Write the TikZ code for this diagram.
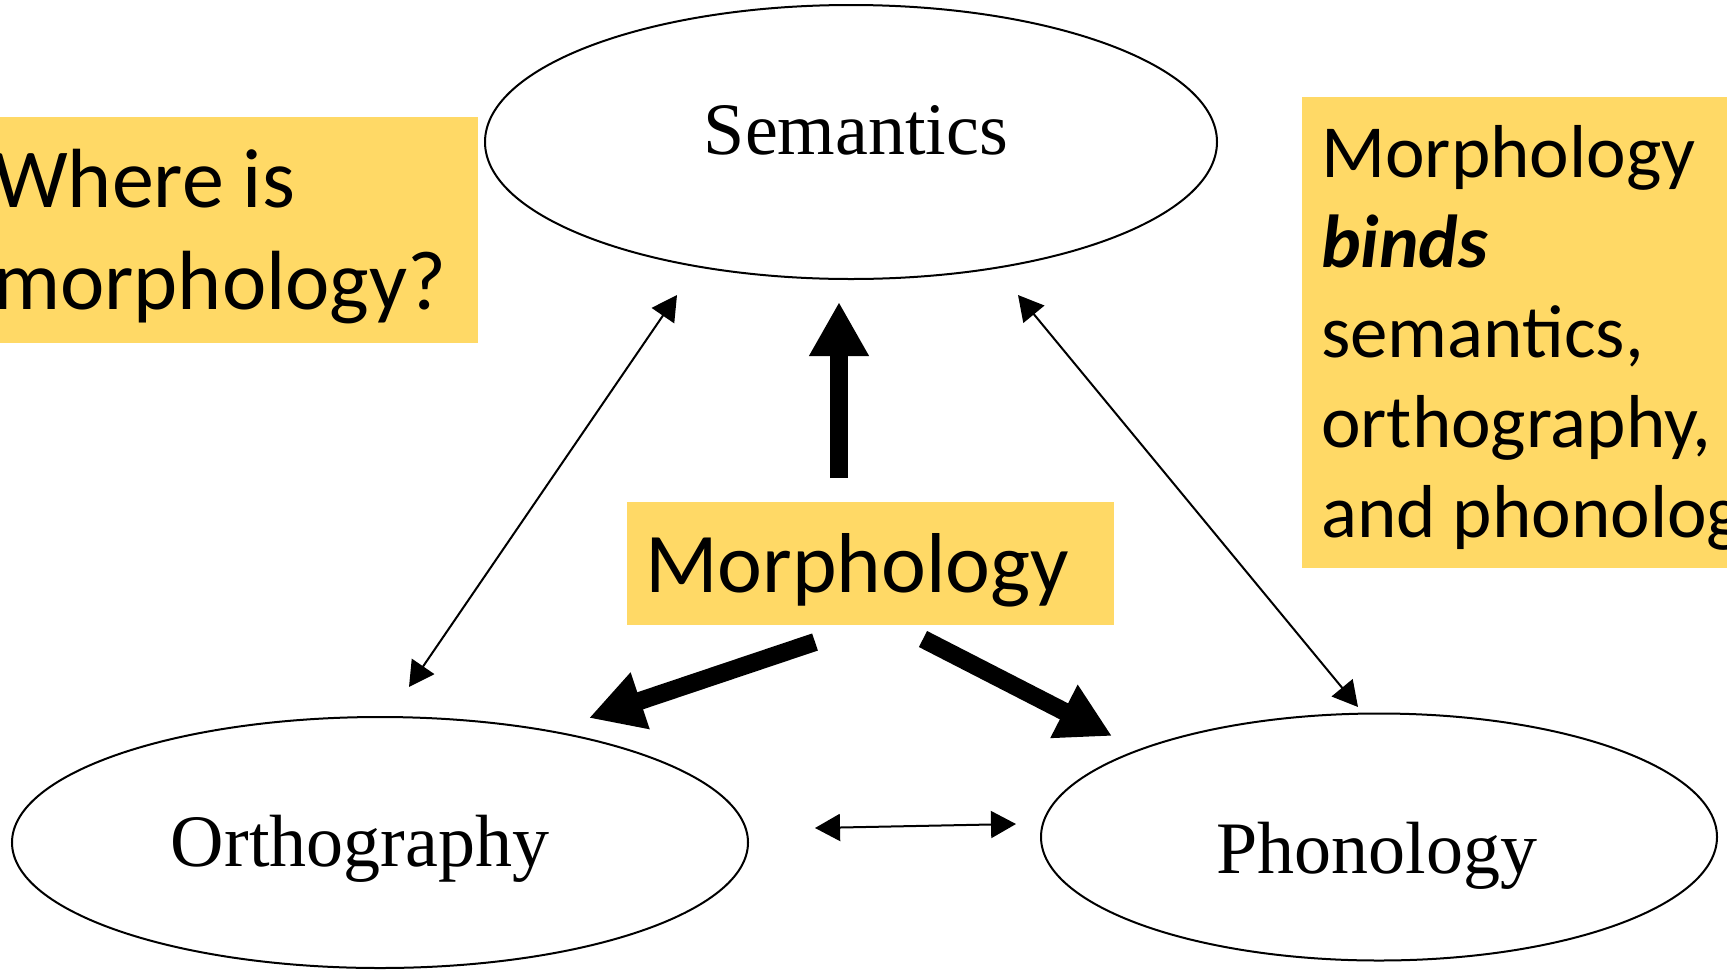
\documentclass[tikz,border=0pt]{standalone}
\usepackage{fontspec}
\setmainfont{Carlito}
\newfontfamily\labelface{Liberation Serif}
\usetikzlibrary{arrows.meta,shapes.geometric}
\definecolor{notefill}{HTML}{FFD966}
\begin{document}
\begin{tikzpicture}[x=1pt,y=-1pt,
  oval/.style={draw,line width=2pt,ellipse,inner sep=0pt},
  ovallabel/.style={anchor=base,inner sep=0pt,font=\labelface\fontsize{74}{80}\selectfont},
  notebox/.style={fill=notefill,draw=none,inner sep=0pt},
  notetext/.style={anchor=base west,inner sep=0pt},
  thick link/.style={line width=18pt,-{Triangle[length=54pt,width=56pt]}},
  thin link/.style={line width=2pt,{Triangle[length=25pt,width=27pt]}-{Triangle[length=25pt,width=27pt]}}]
\useasboundingbox (0,0) rectangle (1727,970);
\clip (0,0) rectangle (1727,970);

% three language domains
\node[oval,minimum width=732pt,minimum height=274pt] (sem) at (851,142) {};
\node[oval,minimum width=736pt,minimum height=251pt] (orth) at (380,842.5) {};
\node[oval,minimum width=676pt,minimum height=247pt] (phon) at (1379,837) {};
\node[ovallabel] (semlbl) at (856,154) {Semantics};
\node[ovallabel] (orthlbl) at (360,866) {Orthography};
\node[ovallabel] (phonlbl) at (1377,873) {Phonology};

% yellow notes
\node[notebox,minimum width=490pt,minimum height=226pt] (qbox) at (233,230) {};
\node[notetext,font=\fontsize{84}{102}\selectfont] (qtext) at (-7,207)
  {\begin{tabular}[t]{@{}l@{}}Where is\\morphology?\end{tabular}};

\node[notebox,minimum width=440pt,minimum height=471pt] (bbox) at (1522,332.5) {};
\node[notetext,font=\fontsize{75}{90}\selectfont] (btext) at (1321,177)
  {\begin{tabular}[t]{@{}l@{}}Morphology\\\textbf{\textit{binds}}\\semantics,\\orthography,\\and phonology.\end{tabular}};

\node[notebox,minimum width=487pt,minimum height=123pt] (mbox) at (870.5,563.5) {};
\node[notetext,font=\fontsize{85}{90}\selectfont] (mtext) at (645,592) {Morphology};

% connector end points
\coordinate (upS) at (839,478);
\coordinate (upE) at (839,302);
\coordinate (lfS) at (815,642);
\coordinate (lfE) at (589,718);
\coordinate (rtS) at (923,639);
\coordinate (rtE) at (1112,736);
\coordinate (osA) at (409,687);
\coordinate (osB) at (677,295);
\coordinate (spA) at (1018,295);
\coordinate (spB) at (1358,707);
\coordinate (opA) at (815,828);
\coordinate (opB) at (1016,824);

% morphology feeds every domain
\draw[thick link] (upS) -- (upE);
\draw[thick link] (lfS) -- (lfE);
\draw[thick link] (rtS) -- (rtE);

% mutual links between domains
\draw[thin link] (osA) -- (osB);
\draw[thin link] (spA) -- (spB);
\draw[thin link] (opA) -- (opB);
\end{tikzpicture}
\end{document}
